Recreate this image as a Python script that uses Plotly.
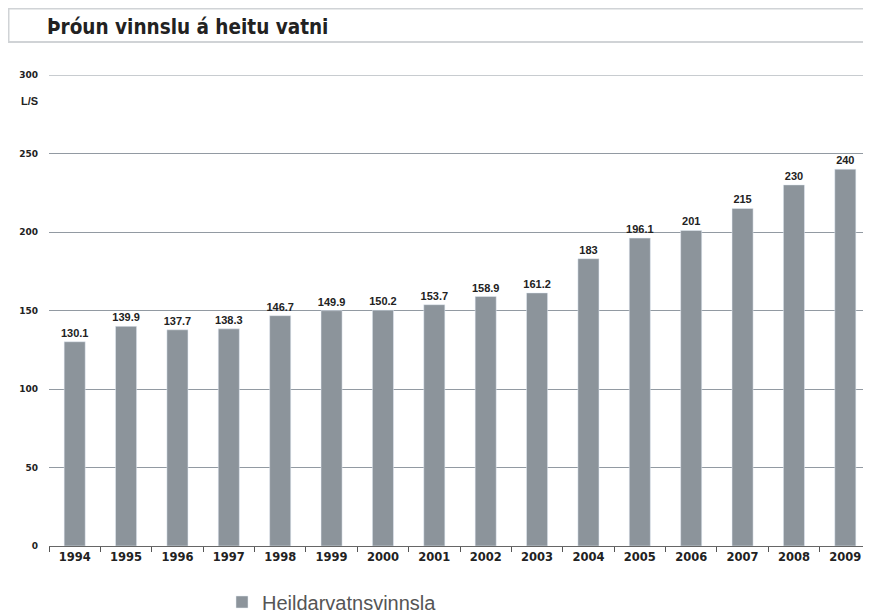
import plotly.graph_objects as go

# data
years = ['1994', '1995', '1996', '1997', '1998', '1999', '2000', '2001',
         '2002', '2003', '2004', '2005', '2006', '2007', '2008', '2009']
vinnsla = [130.1, 139.9, 137.7, 138.3, 146.7, 149.9, 150.2, 153.7,
           158.9, 161.2, 183, 196.1, 201, 215, 230, 240]
y_ticks = [0, 50, 100, 150, 200, 250, 300]

# the page puts the figure 8px in from the top-left corner;
# the figure runs a little past the bottom of the window so the legend fits
OFF = 8
W, H = 871 - OFF, 620
# plot area in window pixels: left 49, right 871, top 75, bottom 546
ML, MR, MT, MB = 49 - OFF, 0, 75 - OFF, H + OFF - 546


def px_x(p):
    return (p - OFF - ML) / (W - ML - MR)


def px_y(p):
    return 1 - (p - OFF - MT) / (H - MT - MB)


fig = go.Figure()
fig.add_trace(go.Bar(
    x=years, y=vinnsla, name='Heildarvatnsvinnsla',
    marker_color='#8c949b', width=0.41,
    text=[f'{v:g}' for v in vinnsla], textposition='outside',
    textfont=dict(family='Liberation Sans', size=11, color='#222222', weight='bold'),
    constraintext='none', cliponaxis=False,
))

# title box
fig.add_shape(type='rect', xref='paper', yref='paper',
              x0=px_x(OFF + 0.5), x1=px_x(880), y0=px_y(42), y1=px_y(OFF + 0.5),
              line=dict(color='#d0d3d6', width=2), fillcolor='white', layer='below')
fig.add_annotation(xref='paper', yref='paper', x=px_x(45), y=px_y(27),
                   text='Þróun vinnslu á heitu vatni', showarrow=False,
                   xanchor='left', yanchor='middle',
                   font=dict(family='DejaVu Sans Condensed', size=20.5, color='#222222', weight='bold'))
fig.add_annotation(xref='paper', yref='paper', x=px_x(19), y=px_y(101),
                   text='L/S', showarrow=False, xanchor='left', yanchor='middle',
                   font=dict(family='Liberation Sans', size=11, color='#222222', weight='bold'))
# top gridline at 300
fig.add_shape(type='line', xref='paper', yref='y', x0=0, x1=1, y0=300, y1=300,
              line=dict(color='#929aa2', width=1))

fig.update_layout(
    width=W, height=H,
    margin=dict(l=ML, r=MR, t=MT, b=MB),
    plot_bgcolor='white', paper_bgcolor='white',
    bargap=0.59,
    showlegend=True,
    legend=dict(orientation='h', x=px_x(222), y=px_y(602), xanchor='left', yanchor='middle',
                font=dict(family='Liberation Sans', size=20, color='#555555')),
    xaxis=dict(
        type='category', showgrid=False, showline=True, linecolor='#666666', linewidth=1,
        ticks='outside', tickson='boundaries', ticklen=5, tickcolor='#555555',
        tickfont=dict(family='DejaVu Sans', size=11.5, color='#222222', weight='bold'),
    ),
    yaxis=dict(
        range=[0, 300], tickvals=y_ticks, showgrid=True, gridcolor='#929aa2', gridwidth=1,
        zeroline=False, showline=False, ticks='', ticklabelstandoff=10,
        tickfont=dict(family='DejaVu Sans', size=9, color='#222222', weight='bold'),
    ),
)

fig.write_html('out.html')
